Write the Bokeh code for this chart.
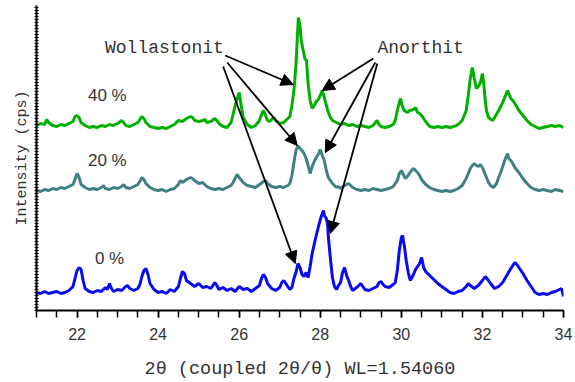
from bokeh.plotting import figure
from bokeh.models import Range1d, FixedTicker, Label, Arrow, NormalHead, CustomJSTickFormatter
from bokeh.embed import file_html
from bokeh.resources import INLINE

# ---- data (2theta, intensity in arbitrary units, offset stacked) ----
x_0 = [21.0, 21.1, 21.2, 21.3, 21.4, 21.5, 21.6, 21.7, 21.8, 21.9, 21.95, 22.0, 22.05, 22.1, 22.15, 22.2, 22.3, 22.4, 22.5, 22.6,
       22.7, 22.75, 22.8, 22.85, 22.9, 23.0, 23.1, 23.2, 23.25, 23.3, 23.4, 23.5, 23.55, 23.6, 23.65, 23.7, 23.75, 23.8, 23.9, 24.0,
       24.1, 24.2, 24.3, 24.4, 24.5, 24.55, 24.6, 24.65, 24.7, 24.8, 24.9, 25.0, 25.1, 25.2, 25.3, 25.4, 25.45, 25.5, 25.6, 25.7,
       25.8, 25.9, 26.0, 26.1, 26.2, 26.3, 26.4, 26.5, 26.55, 26.6, 26.65, 26.7, 26.8, 26.9, 27.0, 27.05, 27.1, 27.15, 27.2, 27.25,
       27.3, 27.35, 27.4, 27.45, 27.5, 27.55, 27.6, 27.65, 27.7, 27.75, 27.8, 27.85, 27.9, 27.95, 28.0, 28.05, 28.08, 28.1, 28.15, 28.18,
       28.2, 28.25, 28.3, 28.35, 28.4, 28.45, 28.5, 28.55, 28.6, 28.65, 28.7, 28.75, 28.8, 28.9, 29.0, 29.05, 29.1, 29.2, 29.3, 29.4,
       29.45, 29.5, 29.55, 29.6, 29.7, 29.8, 29.85, 29.9, 29.95, 30.0, 30.03, 30.08, 30.12, 30.17, 30.22, 30.3, 30.35, 30.4, 30.45, 30.5,
       30.55, 30.6, 30.7, 30.8, 30.9, 31.0, 31.1, 31.2, 31.3, 31.4, 31.5, 31.6, 31.65, 31.7, 31.8, 31.9, 32.0, 32.07, 32.15, 32.2,
       32.3, 32.4, 32.5, 32.6, 32.7, 32.8, 32.85, 32.9, 33.0, 33.1, 33.2, 33.3, 33.4, 33.5, 33.6, 33.7, 33.8, 33.9, 33.95, 34.0]
y_0 = [18, 17, 19, 17, 18, 19, 17, 18, 20, 24, 32, 40, 43, 41, 30, 22, 19, 18, 20, 19,
       23, 21, 27, 22, 19, 21, 20, 24, 25, 22, 20, 22, 26, 34, 40, 42, 36, 27, 21, 18,
       19, 17, 21, 19, 24, 32, 39, 37, 30, 27, 24, 27, 23, 24, 22, 28, 25, 21, 23, 20,
       22, 19, 24, 21, 22, 19, 22, 25, 32, 36, 33, 27, 22, 20, 23, 28, 30, 27, 24, 21,
       23, 32, 38, 47, 43, 36, 34, 38, 33, 44, 57, 66, 75, 83, 91, 97, 100, 95, 92, 86,
       73, 52, 33, 24, 21, 25, 28, 38, 43, 35, 30, 24, 20, 23, 27, 24, 21, 20, 22, 24,
       28, 29, 26, 24, 23, 26, 28, 40, 60, 73, 75, 63, 50, 38, 30, 36, 41, 44, 47, 53,
       43, 39, 35, 31, 27, 24, 21, 18, 17, 19, 20, 24, 27, 25, 22, 25, 30, 34, 30, 27,
       22, 24, 28, 35, 42, 48, 46, 43, 37, 30, 24, 18, 16, 17, 16, 18, 19, 21, 22, 14]

x_20 = [21.0, 21.1, 21.2, 21.3, 21.4, 21.5, 21.6, 21.7, 21.8, 21.9, 21.95, 22.0, 22.05, 22.1, 22.2, 22.3, 22.4, 22.5, 22.6, 22.65,
        22.7, 22.8, 22.9, 23.0, 23.1, 23.15, 23.2, 23.3, 23.4, 23.5, 23.55, 23.6, 23.65, 23.7, 23.8, 23.9, 24.0, 24.1, 24.2, 24.3,
        24.4, 24.5, 24.55, 24.6, 24.7, 24.8, 24.85, 24.9, 25.0, 25.1, 25.2, 25.3, 25.4, 25.5, 25.6, 25.7, 25.8, 25.85, 25.9, 25.95,
        26.0, 26.1, 26.2, 26.3, 26.4, 26.5, 26.6, 26.65, 26.7, 26.8, 26.9, 27.0, 27.1, 27.2, 27.25, 27.3, 27.35, 27.4, 27.45, 27.5,
        27.55, 27.6, 27.65, 27.7, 27.75, 27.8, 27.85, 27.9, 27.95, 28.0, 28.05, 28.1, 28.15, 28.2, 28.3, 28.4, 28.45, 28.5, 28.6, 28.7,
        28.8, 28.9, 29.0, 29.1, 29.2, 29.3, 29.4, 29.5, 29.6, 29.7, 29.8, 29.9, 29.95, 30.0, 30.05, 30.1, 30.15, 30.2, 30.25, 30.3,
        30.35, 30.4, 30.45, 30.5, 30.6, 30.7, 30.8, 30.9, 31.0, 31.1, 31.2, 31.3, 31.4, 31.5, 31.6, 31.65, 31.7, 31.75, 31.8, 31.85,
        31.9, 31.95, 32.0, 32.05, 32.1, 32.15, 32.2, 32.27, 32.35, 32.4, 32.45, 32.5, 32.55, 32.6, 32.62, 32.65, 32.7, 32.75, 32.8, 32.9,
        33.0, 33.1, 33.2, 33.3, 33.4, 33.5, 33.6, 33.7, 33.8, 33.9, 34.0]
y_20 = [120, 119, 121, 120, 122, 121, 123, 122, 124, 126, 131, 137, 133, 126, 123, 121, 122, 121, 123, 125,
        122, 121, 123, 122, 124, 126, 123, 122, 124, 126, 129, 133, 131, 127, 123, 121, 120, 121, 119, 121,
        122, 126, 130, 128, 131, 133, 132, 130, 127, 128, 124, 122, 121, 122, 121, 123, 125, 128, 132, 136,
        133, 128, 125, 124, 123, 126, 129, 130, 127, 124, 123, 124, 123, 125, 127, 135, 148, 160, 165, 162,
        160, 157, 152, 145, 137, 144, 149, 153, 156, 161, 155, 150, 140, 133, 127, 123, 124, 122, 125, 127,
        123, 121, 120, 121, 120, 122, 121, 120, 121, 122, 124, 130, 137, 140, 136, 132, 134, 137, 140, 142,
        140, 138, 135, 131, 126, 123, 121, 120, 119, 120, 119, 120, 122, 125, 132, 137, 142, 145, 147, 145,
        144, 146, 143, 138, 133, 128, 125, 123, 127, 133, 138, 144, 150, 155, 157, 152, 150, 147, 143, 138,
        132, 127, 123, 121, 120, 121, 120, 119, 121, 120, 119]

x_40 = [21.0, 21.1, 21.2, 21.25, 21.3, 21.4, 21.5, 21.6, 21.7, 21.8, 21.9, 21.95, 22.0, 22.05, 22.1, 22.2, 22.3, 22.4, 22.5, 22.6,
        22.7, 22.8, 22.9, 23.0, 23.1, 23.15, 23.2, 23.3, 23.4, 23.5, 23.55, 23.6, 23.65, 23.7, 23.8, 23.9, 24.0, 24.1, 24.2, 24.3,
        24.4, 24.5, 24.6, 24.7, 24.8, 24.85, 24.9, 25.0, 25.1, 25.16, 25.2, 25.3, 25.4, 25.45, 25.5, 25.6, 25.7, 25.8, 25.85, 25.9,
        25.95, 26.0, 26.03, 26.07, 26.1, 26.2, 26.3, 26.4, 26.5, 26.55, 26.6, 26.65, 26.7, 26.75, 26.8, 26.85, 26.9, 27.0, 27.1, 27.2,
        27.25, 27.3, 27.35, 27.4, 27.43, 27.46, 27.5, 27.53, 27.57, 27.62, 27.66, 27.7, 27.75, 27.8, 27.85, 27.9, 27.95, 28.0, 28.05, 28.1,
        28.15, 28.2, 28.25, 28.3, 28.4, 28.5, 28.6, 28.7, 28.8, 28.9, 29.0, 29.1, 29.2, 29.3, 29.4, 29.45, 29.5, 29.6, 29.7, 29.8,
        29.85, 29.9, 29.95, 29.98, 30.02, 30.07, 30.15, 30.2, 30.3, 30.35, 30.4, 30.45, 30.5, 30.6, 30.7, 30.8, 30.9, 31.0, 31.1, 31.2,
        31.3, 31.4, 31.5, 31.6, 31.65, 31.7, 31.75, 31.8, 31.85, 31.9, 31.95, 32.0, 32.03, 32.07, 32.1, 32.15, 32.25, 32.3, 32.4, 32.5,
        32.55, 32.6, 32.62, 32.7, 32.75, 32.8, 32.9, 33.0, 33.1, 33.2, 33.3, 33.4, 33.5, 33.6, 33.7, 33.8, 33.9, 34.0]
y_40 = [185, 187, 186, 191, 188, 185, 184, 186, 185, 187, 189, 194, 195, 193, 188, 185, 183, 184, 183, 185,
        184, 186, 185, 187, 190, 188, 185, 184, 186, 188, 191, 194, 192, 188, 184, 183, 182, 183, 182, 184,
        186, 190, 189, 192, 194, 193, 190, 189, 190, 191, 188, 189, 192, 190, 187, 184, 183, 188, 196, 205,
        212, 218, 210, 200, 193, 186, 183, 185, 190, 196, 200, 195, 190, 189, 191, 193, 190, 187, 188, 192,
        194, 205, 220, 245, 270, 293, 285, 270, 262, 252, 250, 227, 210, 202, 205, 209, 211, 215, 220, 213,
        205, 198, 193, 190, 188, 186, 187, 185, 186, 184, 185, 184, 183, 185, 190, 186, 184, 183, 184, 186,
        190, 200, 208, 212, 205, 200, 198, 200, 201, 203, 198, 197, 195, 189, 184, 183, 184, 183, 184, 183,
        184, 186, 190, 200, 215, 232, 243, 232, 222, 224, 228, 237, 228, 210, 200, 193, 190, 193, 200, 208,
        213, 218, 220, 212, 210, 207, 200, 195, 190, 186, 184, 182, 183, 184, 185, 184, 185, 183]

x_ticks = [22, 24, 26, 28, 30, 32, 34]
x_minor = [21 + 0.5 * i for i in range(27)]

series_labels = ["40 %", "20 %", "0 %"]
colors = ["#00b000", "#408080", "#0a0af0"]

# ---- figure ----
p = figure(width=575, height=382, output_backend="svg", toolbar_location=None,
           x_range=Range1d(21, 34), y_range=Range1d(0, 305),
           min_border_left=36, min_border_right=12, min_border_top=5, min_border_bottom=72)
p.outline_line_color = None
p.xgrid.visible = False
p.ygrid.visible = False
p.background_fill_color = "white"
p.border_fill_color = "white"

for xs, ys, c in zip([x_40, x_20, x_0], [y_40, y_20, y_0], colors):
    p.line(xs, ys, line_color=c, line_width=3)

# x axis
xa = p.xaxis[0]
xa.ticker = FixedTicker(ticks=x_ticks, minor_ticks=x_minor)
xa.axis_line_width = 2
xa.axis_line_color = "black"
xa.major_tick_in = 0
xa.major_tick_out = 7
xa.minor_tick_in = 0
xa.minor_tick_out = 7
xa.major_tick_line_width = 1.5
xa.minor_tick_line_width = 1.5
xa.major_label_text_font = "Liberation Sans"
xa.major_label_text_font_size = "16px"
xa.major_label_text_color = "#333333"
xa.major_label_standoff = 10
xa.axis_label = "2θ (coupled 2θ/θ) WL=1.54060"
xa.axis_label_text_font = "Liberation Mono"
xa.axis_label_text_font_style = "normal"
xa.axis_label_text_font_size = "18.5px"
xa.axis_label_text_color = "#333333"
xa.axis_label_standoff = 16

# y axis
ya = p.yaxis[0]
ya.ticker = FixedTicker(ticks=[3 * i for i in range(102)], minor_ticks=[])
ya.formatter = CustomJSTickFormatter(code="return ''")
ya.axis_line_width = 2
ya.major_tick_in = 2
ya.major_tick_out = 2
ya.major_tick_line_width = 1
ya.major_label_standoff = 0
ya.axis_label = "Intensity (cps)"
ya.axis_label_text_font = "Liberation Mono"
ya.axis_label_text_font_style = "normal"
ya.axis_label_text_font_size = "15px"
ya.axis_label_text_color = "#333333"
ya.axis_label_standoff = 4

# series labels
for txt, lx, ly in zip(series_labels, [22.27, 22.27, 22.44], [215, 150, 52]):
    p.add_layout(Label(x=lx, y=ly, text=txt, text_font="Liberation Sans", text_font_size="17px",
                       text_color="#333333", text_baseline="middle", text_align="left"))

p.add_layout(Label(x=22.69, y=263, text="Wollastonit", text_font="Liberation Mono",
                   text_font_size="18px", text_color="#333333", text_baseline="middle"))
p.add_layout(Label(x=29.41, y=263, text="Anorthit", text_font="Liberation Mono",
                   text_font_size="18px", text_color="#333333", text_baseline="middle"))

arrows = [
    (25.654, 255, 27.333, 226),
    (25.704, 248, 27.432, 165),
    (25.605, 244, 27.383, 47),
    (29.309, 252, 28.049, 220),
    (29.358, 248, 28.123, 158),
    (29.407, 247, 28.247, 77),
]
for xs_, ys_, xe, ye in arrows:
    p.add_layout(Arrow(end=NormalHead(size=12, fill_color="black", line_color="black"),
                       x_start=xs_, y_start=ys_, x_end=xe, y_end=ye,
                       line_color="black", line_width=1.8))

open("out.html", "w").write(file_html(p, INLINE))
